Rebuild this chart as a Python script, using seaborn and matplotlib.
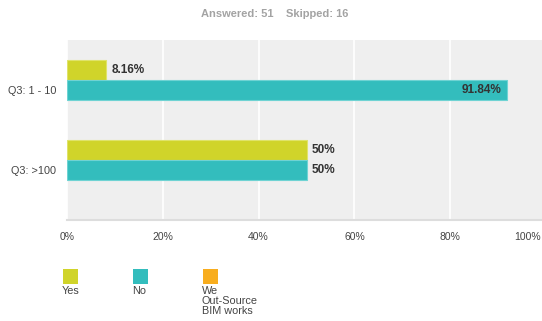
import pandas as pd
import seaborn as sns
import matplotlib.pyplot as plt
import matplotlib.transforms as mtransforms
from matplotlib.patches import Rectangle

# Survey results (percent of respondents)
questions = ["Q3: 1 - 10", "Q3: >100"]
answers = ["Yes", "No"]
yes_pct = [8.16, 50]
no_pct = [91.84, 50]

legend_labels = ["Yes", "No", "We\nOut-Source\nBIM works"]
colors = ["#d0d42a", "#33bdbd", "#f8ad1e"]
edge_colors = ["#dfe36a", "#6fd3d3", "#f8c460"]
xticks = [0, 20, 40, 60, 80, 100]

df = pd.DataFrame({
    "question": questions * 2,
    "answer": [answers[0]] * len(questions) + [answers[1]] * len(questions),
    "pct": yes_pct + no_pct,
})

sns.set_style("white")
plt.rcParams["font.family"] = ["Liberation Sans", "DejaVu Sans"]

fig = plt.figure(figsize=(5.42, 3.21), dpi=100)
W, H = 542, 321
ax = fig.add_axes([67 / W, 101 / H, 479 / W, 180 / H])
ax.set_facecolor("#efefef")

sns.barplot(data=df, y="question", x="pct", hue="answer", orient="h",
            order=questions, hue_order=answers, palette=colors[:2],
            width=0.5, saturation=1, legend=False, ax=ax, zorder=3)

for cont, ec in zip(ax.containers, edge_colors):
    for bar in cont:
        bar.set_edgecolor(ec)
        bar.set_linewidth(0.8)
        val = bar.get_width()
        txt = f"{val:g}%"
        yc = bar.get_y() + bar.get_height() / 2
        if val > 85:
            ax.annotate(txt, (val, yc), xytext=(-4, 0), textcoords="offset points",
                        ha="right", va="center", fontsize=8.5, fontweight="bold",
                        color="#333333", zorder=4)
        else:
            ax.annotate(txt, (val, yc), xytext=(4, 0), textcoords="offset points",
                        ha="left", va="center", fontsize=8.5, fontweight="bold",
                        color="#333333", zorder=4)

ax.set_xlim(0, 100)
ax.set_ylim(1.756, -0.494)
ax.set_xticks(xticks)
ax.set_xticklabels([f"{t}%" for t in xticks], fontsize=7.5, color="#444444")
ax.tick_params(axis="x", length=0, pad=9)
ax.tick_params(axis="y", length=0, pad=8, labelsize=7.8, labelcolor="#444444")
ax.xaxis.grid(True, color="white", linewidth=1.2, zorder=0)
ax.set_axisbelow(True)
ax.set_xlabel("")
ax.set_ylabel("")

# last x label would fall off the figure edge, pull it in
last = ax.get_xticklabels()[-1]
last.set_ha("right")
last.set_transform(last.get_transform()
                   + mtransforms.ScaledTranslation(-5 / 100, 0, fig.dpi_scale_trans))

# y labels sit next to the lower bar of each pair
shift = mtransforms.ScaledTranslation(0, -10 / 100, fig.dpi_scale_trans)
for lab in ax.get_yticklabels():
    lab.set_transform(lab.get_transform() + shift)

for side in ["top", "right", "left"]:
    ax.spines[side].set_visible(False)
ax.spines["bottom"].set_color("#dddddd")
ax.spines["bottom"].set_linewidth(1.5)

fig.text(275 / W, 1 - 14 / H, "Answered: 51    Skipped: 16", ha="center", va="center",
         fontsize=8, fontweight="bold", color="#a3a3a3")

# legend drawn below the plot, label under each swatch
lax = fig.add_axes([0, 0, 1, 1])
lax.set_xlim(0, W)
lax.set_ylim(H, 0)
lax.axis("off")
for i, (lab, c) in enumerate(zip(legend_labels, colors)):
    x0 = 63 + i * 70
    lax.add_patch(Rectangle((x0, 269), 15, 15, facecolor=c, edgecolor="none"))
    lax.text(x0 - 1, 286, lab, ha="left", va="top", fontsize=7.8, color="#444444",
             linespacing=1.0)

fig.savefig("out.png", dpi=100)
